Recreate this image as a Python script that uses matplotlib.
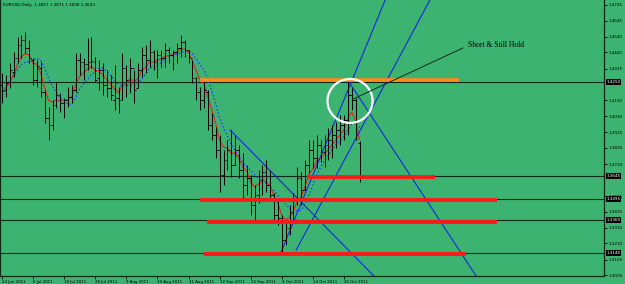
import matplotlib
matplotlib.use("Agg")
import matplotlib.pyplot as plt
import matplotlib.transforms as mtransforms
from matplotlib.patches import Ellipse
import pandas as pd

# ── Data (EURUSD daily) ─────────────────────────────────────────────────────
header = "EURUSD,Daily  1.3857 1.3871 1.3608 1.3633"

opens = [1.4230, 1.4197, 1.4249, 1.4313, 1.4403, 1.4487, 1.4519, 1.4468, 1.4391, 1.4262,
         1.4339, 1.4185, 1.4017, 1.3972, 1.4101, 1.4165, 1.4114, 1.4133, 1.4152, 1.4197,
         1.4391, 1.4378, 1.4365, 1.4378, 1.4378, 1.4275, 1.4326, 1.4230, 1.4210, 1.4133,
         1.4146, 1.4133, 1.4339, 1.4262, 1.4339, 1.4210, 1.4326, 1.4423, 1.4391, 1.4442,
         1.4378, 1.4423, 1.4403, 1.4455, 1.4423, 1.4442, 1.4468, 1.4507, 1.4455, 1.4403,
         1.4275, 1.4185, 1.4133, 1.4185, 1.3972, 1.3908, 1.3811, 1.3650, 1.3747, 1.3811,
         1.3714, 1.3811, 1.3682, 1.3586, 1.3631, 1.3457, 1.3521, 1.3618, 1.3669, 1.3586,
         1.3521, 1.3392, 1.3373, 1.3231, 1.3309, 1.3412, 1.3489, 1.3631, 1.3553, 1.3714,
         1.3811, 1.3759, 1.3843, 1.3798, 1.3843, 1.3875, 1.3908, 1.3940, 1.3972, 1.4004,
         1.4165, 1.4133, 1.3857]
highs = [1.4307, 1.4294, 1.4371, 1.4442, 1.4539, 1.4552, 1.4571, 1.4519, 1.4403, 1.4391,
         1.4378, 1.4197, 1.4088, 1.4133, 1.4249, 1.4178, 1.4146, 1.4217, 1.4230, 1.4436,
         1.4436, 1.4403, 1.4532, 1.4539, 1.4410, 1.4391, 1.4371, 1.4326, 1.4294, 1.4358,
         1.4217, 1.4436, 1.4358, 1.4403, 1.4326, 1.4371, 1.4474, 1.4487, 1.4519, 1.4455,
         1.4455, 1.4455, 1.4500, 1.4474, 1.4455, 1.4500, 1.4552, 1.4519, 1.4455, 1.4391,
         1.4281, 1.4217, 1.4262, 1.4197, 1.4049, 1.3959, 1.3908, 1.3811, 1.3875, 1.3940,
         1.3908, 1.3843, 1.3792, 1.3714, 1.3650, 1.3586, 1.3682, 1.3714, 1.3747, 1.3682,
         1.3534, 1.3489, 1.3392, 1.3360, 1.3457, 1.3534, 1.3702, 1.3669, 1.3747, 1.3875,
         1.3875, 1.3908, 1.3875, 1.3908, 1.3953, 1.3972, 1.3991, 1.4036, 1.4036, 1.4249,
         1.4210, 1.4146, 1.3871]
lows = [1.4114, 1.4152, 1.4210, 1.4281, 1.4371, 1.4403, 1.4436, 1.4371, 1.4230, 1.4217,
        1.4152, 1.3985, 1.3875, 1.3940, 1.4081, 1.4056, 1.4017, 1.4088, 1.4114, 1.4185,
        1.4294, 1.4262, 1.4326, 1.4339, 1.4249, 1.4197, 1.4165, 1.4152, 1.4133, 1.4069,
        1.4049, 1.4133, 1.4152, 1.4178, 1.4114, 1.4210, 1.4281, 1.4307, 1.4346, 1.4326,
        1.4275, 1.4346, 1.4346, 1.4371, 1.4326, 1.4371, 1.4410, 1.4410, 1.4371, 1.4242,
        1.4133, 1.4069, 1.4081, 1.3940, 1.3875, 1.3759, 1.3541, 1.3586, 1.3682, 1.3637,
        1.3714, 1.3631, 1.3489, 1.3521, 1.3392, 1.3360, 1.3470, 1.3521, 1.3541, 1.3489,
        1.3347, 1.3328, 1.3154, 1.3199, 1.3264, 1.3341, 1.3457, 1.3457, 1.3553, 1.3663,
        1.3695, 1.3695, 1.3734, 1.3702, 1.3747, 1.3759, 1.3824, 1.3843, 1.3875, 1.3908,
        1.4069, 1.3875, 1.3608]
closes = [1.4191, 1.4242, 1.4326, 1.4403, 1.4487, 1.4519, 1.4468, 1.4403, 1.4262, 1.4352,
          1.4185, 1.4017, 1.3972, 1.4101, 1.4165, 1.4114, 1.4133, 1.4152, 1.4197, 1.4391,
          1.4378, 1.4365, 1.4378, 1.4385, 1.4262, 1.4326, 1.4230, 1.4210, 1.4165, 1.4146,
          1.4133, 1.4339, 1.4262, 1.4339, 1.4197, 1.4326, 1.4423, 1.4391, 1.4442, 1.4378,
          1.4423, 1.4403, 1.4455, 1.4423, 1.4442, 1.4468, 1.4507, 1.4455, 1.4403, 1.4275,
          1.4185, 1.4133, 1.4197, 1.3972, 1.3908, 1.3811, 1.3650, 1.3747, 1.3811, 1.3714,
          1.3811, 1.3682, 1.3586, 1.3631, 1.3457, 1.3521, 1.3618, 1.3669, 1.3586, 1.3521,
          1.3392, 1.3373, 1.3231, 1.3309, 1.3412, 1.3489, 1.3631, 1.3553, 1.3714, 1.3811,
          1.3759, 1.3843, 1.3798, 1.3843, 1.3875, 1.3908, 1.3940, 1.3972, 1.4004, 1.4165,
          1.4133, 1.3889, 1.3633]

date_labels = ["24 Jun 2011", "6 Jul 2011", "18 Jul 2011", "28 Jul 2011", "9 Aug 2011",
               "19 Aug 2011", "31 Aug 2011", "12 Sep 2011", "22 Sep 2011", "4 Oct 2011",
               "14 Oct 2011", "26 Oct 2011"]
date_pos = list(range(0, 89, 8))

# 1.4235 and 1.3620 sit under highlighted labels in the reference, so left out
price_ticks = [1.4745, 1.4645, 1.4540, 1.4440, 1.4335, 1.4130, 1.4030, 1.3925,
               1.3825, 1.3720, 1.3515, 1.3415, 1.3310, 1.3210, 1.3105, 1.3005]
marked_levels = [1.4250, 1.3645, 1.3495, 1.3360, 1.3148]

# drawn objects (bar index, price)
resistance = (1.4262, 50.9, 117.6)
supports = [(1.3637, 78.5, 111.4), (1.3489, 51.0, 127.4),
            (1.3347, 52.8, 127.4), (1.3141, 52.0, 119.4)]
trendlines = [((71.8, 1.3154), (98.6, 1.4777)),
              ((75.7, 1.3167), (110.1, 1.4777)),
              ((58.7, 1.3940), (95.7, 1.3000)),
              ((89.3, 1.4249), (122.0, 1.3000))]

BG = "#3cb371"

# ── Plot ────────────────────────────────────────────────────────────────────
fig = plt.figure(figsize=(6.25, 2.84), dpi=100, facecolor=BG)
ax = fig.add_axes([0, 8 / 284, 604 / 625, 276 / 284], facecolor=BG)

n = len(closes)
idx = list(range(n))

# moving averages
c = pd.Series(closes)
fast = c.ewm(span=5, adjust=False).mean()
slow = c.rolling(8, min_periods=1).mean()
ax.plot(idx, slow, color="#1a3cff", lw=1.0, ls=(0, (1, 1.6)), zorder=2)
ax.plot(idx, fast, color="#e8201a", lw=0.8, zorder=2)

# OHLC bars
ax.vlines(idx, lows, highs, color="black", lw=0.7, zorder=3)
ax.hlines(opens, [i - 0.45 for i in idx], idx, color="black", lw=0.7, zorder=3)
ax.hlines(closes, idx, [i + 0.45 for i in idx], color="black", lw=0.7, zorder=3)

# levels
for lvl in marked_levels:
    ax.axhline(lvl, color="#102a18", lw=0.8, zorder=1)
p, x0, x1 = resistance
ax.hlines(p, x0, x1, color="#ff8c1a", lw=2.6, zorder=4)
for p, x0, x1 in supports:
    ax.hlines(p, x0, x1, color="#ff1a1a", lw=2.8, zorder=4)

for (xa, ya), (xb, yb) in trendlines:
    ax.plot([xa, xb], [ya, yb], color="#1428e0", lw=0.8, zorder=2)

ax.add_patch(Ellipse((89.55, 1.4127), 11.6, 0.0283, fill=False,
                     ec="white", lw=1.6, zorder=5))
ax.plot([118.6, 90.3], [1.4468, 1.4139], color="#102a18", lw=0.7, zorder=5)
ax.text(119.9, 1.4487, "Short & Still Hold", family="Liberation Serif",
        fontsize=5.5, va="center", ha="left", color="black", zorder=6)

ax.text(3 / 604, 1 - 5 / 276, header, transform=ax.transAxes, fontsize=3.0,
        va="center", ha="left", color="black")

ax.set_xlim(-0.515, 154.9)
ax.set_ylim(1.3000, 1.4777)

ax.yaxis.tick_right()
ax.set_yticks(price_ticks)
ax.set_yticklabels([f"{v:.4f}" for v in price_ticks])
ax.set_xticks(date_pos)
ax.set_xticklabels(date_labels, ha="left")
ax.tick_params(axis="y", length=2, width=0.6, pad=1.5, labelsize=3.0, colors="black")
ax.tick_params(axis="x", length=2.5, width=0.6, pad=0.5, labelsize=2.8, colors="black")

# highlighted price labels on the axis
trans = mtransforms.blended_transform_factory(ax.transAxes, ax.transData)
for lvl in marked_levels:
    ax.text(1.004, lvl, f"{lvl:.4f}", transform=trans, fontsize=3.0, color="white",
            va="center", ha="left", clip_on=False, zorder=10,
            bbox=dict(boxstyle="square,pad=0.2", fc="black", ec="none"))

for side in ["left", "right", "bottom"]:
    ax.spines[side].set_color("#102a18")
    ax.spines[side].set_linewidth(0.9)
ax.spines["top"].set_visible(False)

fig.savefig("out.png", dpi=100, facecolor=BG)
